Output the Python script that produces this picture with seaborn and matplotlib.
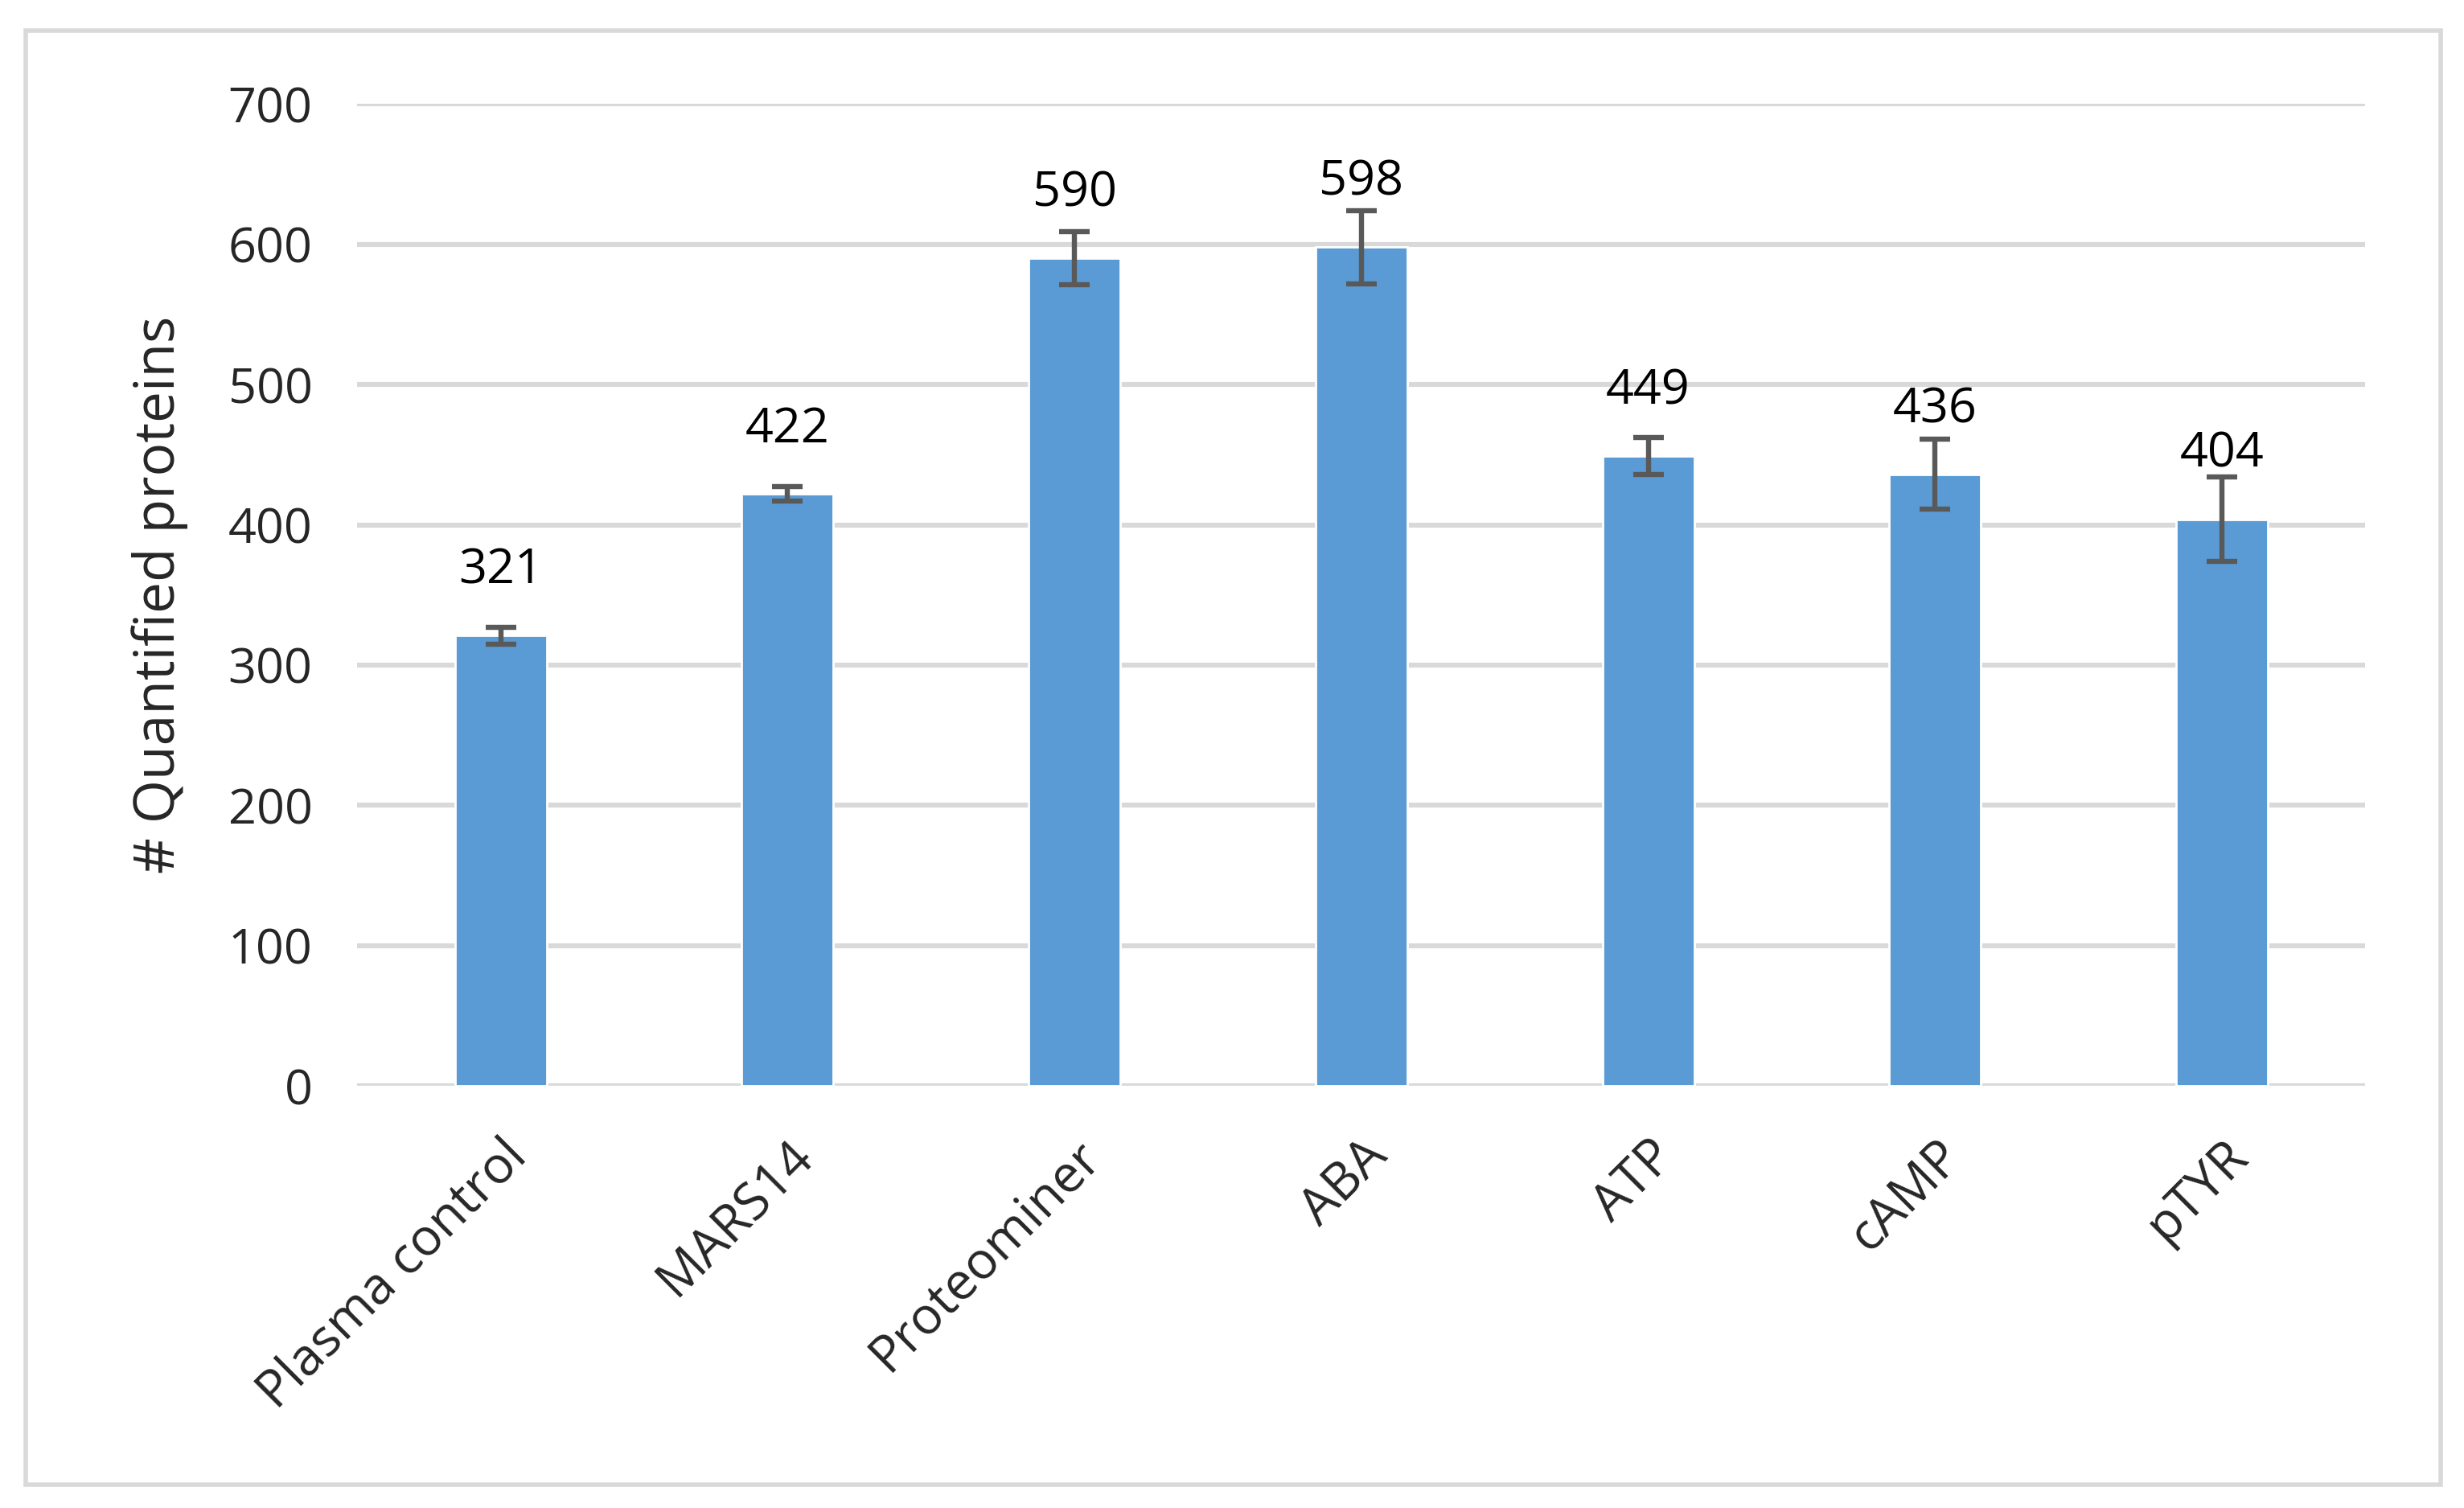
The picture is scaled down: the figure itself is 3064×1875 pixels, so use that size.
import matplotlib
matplotlib.use('Agg')
import matplotlib.pyplot as plt
import seaborn as sns
import pandas as pd
from matplotlib.patches import Rectangle

# data
categories = ['Plasma control', 'MARS14', 'Proteominer', 'ABA', 'ATP', 'cAMP', 'pTYR']
proteins = [321, 422, 590, 598, 449, 436, 404]
errors = [6, 5, 19, 26, 13, 25, 30]
y_ticks = [0, 100, 200, 300, 400, 500, 600, 700]

df = pd.DataFrame({'Sample': categories, 'Proteins': proteins})

sns.set_style('white')
plt.rcParams['font.family'] = ['Open Sans', 'DejaVu Sans']

fig = plt.figure(figsize=(15.32, 9.375), dpi=200)
ax = fig.add_axes([0.145, 0.28, 0.815, 0.651])

# bars
sns.barplot(data=df, x='Sample', y='Proteins', color='#5B9BD5', saturation=1,
            width=0.32, errorbar=None, ax=ax, zorder=3)

# error bars
ax.errorbar(range(len(categories)), proteins, yerr=errors, fmt='none',
            ecolor='#595959', elinewidth=2.3, capsize=7, capthick=2.3, zorder=4)

# value labels above the bars
for i, v in enumerate(proteins):
    ax.annotate(str(v), (i, v), xytext=(0, 29), textcoords='offset points',
                ha='center', va='center', fontsize=22, color='black', zorder=5)

ax.set_ylim(0, 700)
ax.set_xlim(-0.5, len(categories) - 0.5)
ax.set_yticks(y_ticks)
ax.yaxis.grid(True, color='#D9D9D9', linewidth=2.2, zorder=0)
ax.set_axisbelow(True)
for s in ax.spines.values():
    s.set_visible(False)

ax.tick_params(axis='y', length=0, pad=20, labelsize=22)
ax.tick_params(axis='x', length=0, pad=20, labelsize=23)
plt.setp(ax.get_xticklabels(), rotation=45, ha='right', rotation_mode='anchor')
ax.set_xlabel('')
ax.set_ylabel('# Quantified proteins', fontsize=25, labelpad=18)

# outer chart border
fig.patches.append(Rectangle((0.0105, 0.0155), 0.980, 0.964, transform=fig.transFigure,
                             fill=False, edgecolor='#D9D9D9', linewidth=2))

fig.savefig('out.png', dpi=200, facecolor='white')
